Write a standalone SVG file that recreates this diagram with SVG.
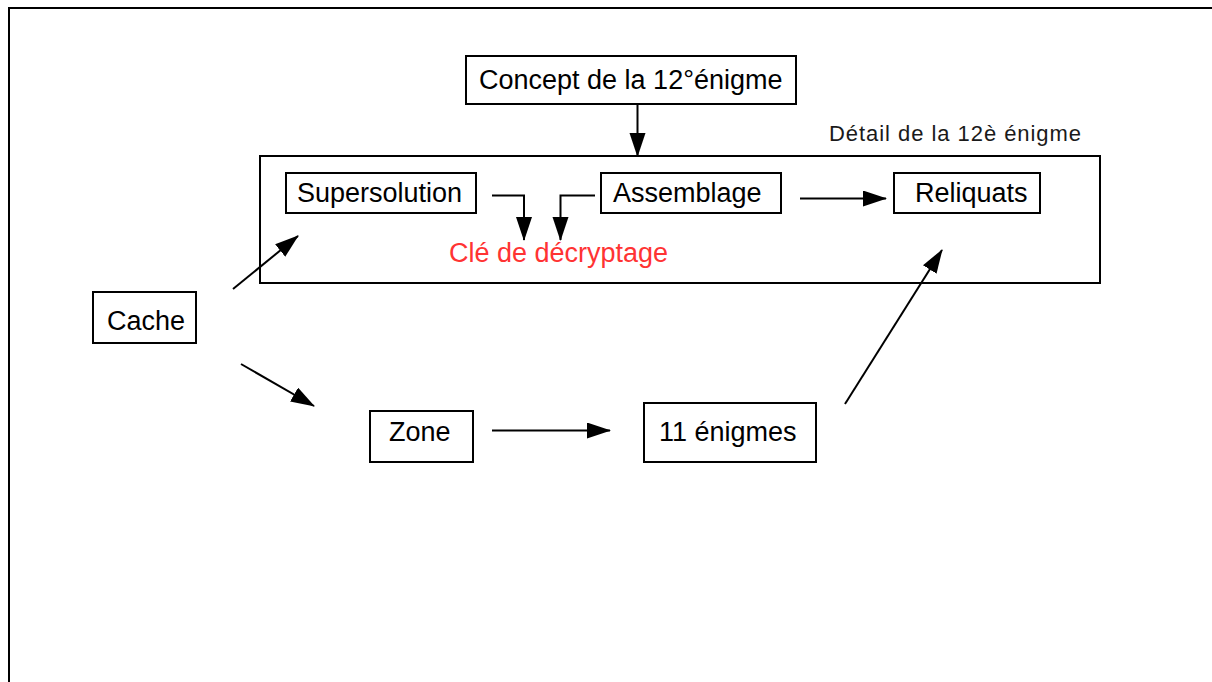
<svg xmlns="http://www.w3.org/2000/svg" width="1212" height="682" viewBox="0 0 1212 682">
<style>
.box{fill:#fff;stroke:#000;stroke-width:2}
.frame{fill:none;stroke:#000;stroke-width:2}
.t{font-family:"Liberation Sans",Arial,sans-serif;font-size:27px;fill:#000}
.red{fill:#ff3333}
.small{font-family:"Liberation Sans",Arial,sans-serif;font-size:22px;fill:#1a1a1a;letter-spacing:0.95px}
.c{fill:none;stroke:#000;stroke-width:2}
</style>
<defs>
<marker id="ah" markerUnits="userSpaceOnUse" markerWidth="25" markerHeight="17" refX="23" refY="8" orient="auto">
<path d="M0,0 L24,8 L0,16 z" fill="#000"/>
</marker>
</defs>
<rect width="1212" height="682" fill="#fff"/>
<path class="frame" d="M9,682 V8 H1212"/>
<g id="detail">
<rect class="frame" x="260" y="156" width="840" height="127"/>
<text class="small" x="829" y="141">Détail de la 12è énigme</text>
</g>
<g id="concept">
<rect class="box" x="466" y="56" width="330" height="48"/>
<text class="t" x="479" y="89">Concept de la 12°énigme</text>
</g>
<g id="supersolution">
<rect class="box" x="286" y="173" width="190" height="40"/>
<text class="t" x="297" y="201.5">Supersolution</text>
</g>
<g id="assemblage">
<rect class="box" x="601" y="173" width="180" height="40"/>
<text class="t" x="613" y="201.5">Assemblage</text>
</g>
<g id="reliquats">
<rect class="box" x="894" y="173" width="146" height="40"/>
<text class="t" x="915" y="201.5">Reliquats</text>
</g>
<g id="cle">
<text class="t red" x="449" y="262">Clé de décryptage</text>
</g>
<g id="cache">
<rect class="box" x="93" y="292" width="103" height="51"/>
<text class="t" x="107" y="330">Cache</text>
</g>
<g id="zone">
<rect class="box" x="370" y="411" width="103" height="51"/>
<text class="t" x="389" y="441">Zone</text>
</g>
<g id="enigmes">
<rect class="box" x="644" y="403" width="172" height="59"/>
<text class="t" x="659" y="440.5">11 énigmes</text>
</g>
<g id="connectors">
<path class="c" marker-end="url(#ah)" d="M637.5,104 V156"/>
<path class="c" marker-end="url(#ah)" d="M492,195.5 H524 V240"/>
<path class="c" marker-end="url(#ah)" d="M595,195.5 H560.5 V240"/>
<path class="c" marker-end="url(#ah)" d="M800,198.5 H886"/>
<path class="c" marker-end="url(#ah)" d="M233,289 L298,236"/>
<path class="c" marker-end="url(#ah)" d="M241,364 L314,406"/>
<path class="c" marker-end="url(#ah)" d="M492,430.5 H610"/>
<path class="c" marker-end="url(#ah)" d="M845,404 L942,250"/>
</g>
</svg>
